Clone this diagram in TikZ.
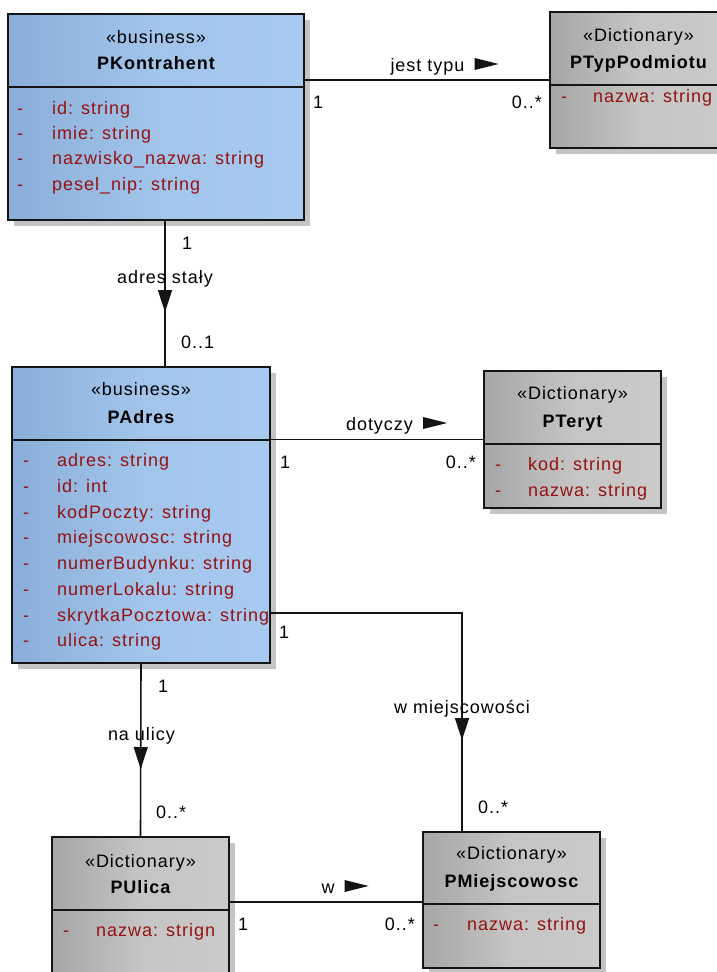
\documentclass[tikz,border=0pt]{standalone}
\usepackage{fontspec}
\setmainfont{Liberation Sans}[LetterSpace=5.5]
\usetikzlibrary{arrows.meta,decorations.markings,calc}
\definecolor{blueL}{RGB}{138,174,216}
\definecolor{blueR}{RGB}{168,202,240}
\definecolor{grayL}{RGB}{166,166,166}
\definecolor{grayR}{RGB}{202,202,202}
\definecolor{attrred}{RGB}{148,18,18}
\definecolor{shadowc}{RGB}{196,196,196}
\definecolor{linec}{RGB}{20,20,20}
\pgfdeclarelayer{back}
\pgfdeclarelayer{shadowlayer}
\pgfsetlayers{back,shadowlayer,main}
\begin{document}
\begin{tikzpicture}[x=1pt,y=-1pt,
  font=\fontsize{18}{21}\selectfont,
  classbox/.style={draw=linec, line width=2pt, anchor=north west, inner sep=0pt, outer sep=0pt},
  bluebox/.style={classbox, left color=blueL, right color=blueR, middle color=blueR!80!blueL},
  graybox/.style={classbox, left color=grayL, right color=grayR, middle color=grayR!85!grayL},
  divider/.style={draw=linec, line width=2pt},
  shadowbox/.style={fill=shadowc},
  stereo/.style={anchor=base, inner sep=0pt},
  ctitle/.style={anchor=base, inner sep=0pt, font=\fontsize{18}{21}\selectfont\bfseries},
  attr/.style={anchor=base west, inner sep=0pt, text=attrred},
  lbl/.style={anchor=base, inner sep=0pt},
  multl/.style={anchor=base west, inner sep=0pt},
  multr/.style={anchor=base east, inner sep=0pt},
  conn/.style={draw=linec, line width=1.6pt},
  midarrow/.style={postaction=decorate, decoration={markings,
     mark=at position #1 with {\arrow{Triangle[length=22pt,width=14pt]}}}}
]
\begin{pgfonlayer}{back}
  \fill[white] (0,0) rectangle (717,972);
\end{pgfonlayer}
\useasboundingbox (0,0) rectangle (717,972);

% ---------- class boxes ----------
\node[bluebox, minimum width=296pt, minimum height=206pt] (pk) at (8,14) {};
\node[graybox, minimum width=177pt, minimum height=136pt] (ptp) at (550,12) {};
\node[bluebox, minimum width=258pt, minimum height=296pt] (pa) at (12,367) {};
\node[graybox, minimum width=177pt, minimum height=137pt] (pt) at (484,371) {};
\node[graybox, minimum width=177pt, minimum height=160pt] (pu) at (52,837) {};
\node[graybox, minimum width=177pt, minimum height=136pt] (pm) at (423,832) {};

\begin{pgfonlayer}{shadowlayer}
  \foreach \n in {pk,ptp,pa,pt,pu,pm}{
    \fill[shadowbox] ($(\n.north west)+(6,6)$) rectangle ($(\n.south east)+(6,6)$);
  }
\end{pgfonlayer}

% dividers
\draw[divider] ($(pk.north west)+(0,73)$) -- ($(pk.north east)+(0,73)$);
\draw[divider] ($(ptp.north west)+(0,73)$) -- ($(ptp.north east)+(0,73)$);
\draw[divider] ($(pa.north west)+(0,73)$) -- ($(pa.north east)+(0,73)$);
\draw[divider] ($(pt.north west)+(0,73)$) -- ($(pt.north east)+(0,73)$);
\draw[divider] ($(pu.north west)+(0,73)$) -- ($(pu.north east)+(0,73)$);
\draw[divider] ($(pm.north west)+(0,72)$) -- ($(pm.north east)+(0,72)$);

% ---------- PKontrahent ----------
\node[stereo] (pk-s) at (156,43) {«business»};
\node[ctitle] (pk-t) at (156,69) {PKontrahent};
\node[attr] (pk-d1) at (17,114) {-};
\node[attr] (pk-a1) at (52,114) {id: string};
\node[attr] (pk-d2) at (17,139) {-};
\node[attr] (pk-a2) at (52,139) {imie: string};
\node[attr] (pk-d3) at (17,164) {-};
\node[attr] (pk-a3) at (52,164) {nazwisko\_nazwa: string};
\node[attr] (pk-d4) at (17,190) {-};
\node[attr] (pk-a4) at (52,190) {pesel\_nip: string};

% ---------- PTypPodmiotu ----------
\node[stereo] (ptp-s) at (638.5,41) {«Dictionary»};
\node[ctitle] (ptp-t) at (638.5,68) {PTypPodmiotu};
\node[attr] (ptp-d1) at (561,102) {-};
\node[attr] (ptp-a1) at (593,102) {nazwa: string};

% ---------- PAdres ----------
\node[stereo] (pa-s) at (141,395) {«business»};
\node[ctitle] (pa-t) at (141,423) {PAdres};
\node[attr] (pa-d1) at (23,466) {-};
\node[attr] (pa-a1) at (57,466) {adres: string};
\node[attr] (pa-d2) at (23,492) {-};
\node[attr] (pa-a2) at (57,492) {id: int};
\node[attr] (pa-d3) at (23,518) {-};
\node[attr] (pa-a3) at (57,518) {kodPoczty: string};
\node[attr] (pa-d4) at (23,543) {-};
\node[attr] (pa-a4) at (57,543) {miejscowosc: string};
\node[attr] (pa-d5) at (23,569) {-};
\node[attr] (pa-a5) at (57,569) {numerBudynku: string};
\node[attr] (pa-d6) at (23,595) {-};
\node[attr] (pa-a6) at (57,595) {numerLokalu: string};
\node[attr] (pa-d7) at (23,621) {-};
\node[attr] (pa-a7) at (57,621) {skrytkaPocztowa: string};
\node[attr] (pa-d8) at (23,646) {-};
\node[attr] (pa-a8) at (57,646) {ulica: string};

% ---------- PTeryt ----------
\node[stereo] (pt-s) at (572.5,399) {«Dictionary»};
\node[ctitle] (pt-t) at (572.5,427) {PTeryt};
\node[attr] (pt-d1) at (495,470) {-};
\node[attr] (pt-a1) at (528,470) {kod: string};
\node[attr] (pt-d2) at (495,496) {-};
\node[attr] (pt-a2) at (528,496) {nazwa: string};

% ---------- PUlica ----------
\node[stereo] (pu-s) at (140.5,867) {«Dictionary»};
\node[ctitle] (pu-t) at (140.5,893) {PUlica};
\node[attr] (pu-d1) at (63,936) {-};
\node[attr] (pu-a1) at (96,936) {nazwa: strign};

% ---------- PMiejscowosc ----------
\node[stereo] (pm-s) at (511.5,859) {«Dictionary»};
\node[ctitle] (pm-t) at (511.5,887) {PMiejscowosc};
\node[attr] (pm-d1) at (433,930) {-};
\node[attr] (pm-a1) at (467,930) {nazwa: string};

% ---------- connectors ----------
\coordinate (vx1) at (165,0);
\coordinate (c3) at (462,613);
\coordinate (c5) at (0,902);

\draw[conn] (pk.east |- ptp.west) -- (ptp.west);
\draw[conn, midarrow=92pt] (pk.south -| vx1) -- (pa.north -| vx1);
\draw[conn] (pa.east |- pt.west) -- (pt.west);
\draw[conn, midarrow=319pt] (pa.east |- c3) -- (c3) -- (pm.north -| c3);
\draw[conn, midarrow=106pt] (pa.south) -- (pu.north);
\draw[conn] (pu.east |- c5) -- (pm.west |- c5);

% ---------- labels ----------
\node[lbl] (l1) at (427.5,71) {jest typu};
\fill[linec] ($(l1.base east)+(10,-13)$) -- ++(24,6) -- ++(-24,6) -- cycle;
\node[multl] (m1a) at (313,108) {1};
\node[multr] (m1b) at (542,108) {0..*};

\node[lbl] (l2) at (165,283) {adres stały};
\node[multl] (m2a) at (182,249) {1};
\node[multl] (m2b) at (181,348) {0..1};

\node[lbl] (l3) at (379.5,430) {dotyczy};
\fill[linec] ($(l3.base east)+(10,-13)$) -- ++(24,6) -- ++(-24,6) -- cycle;
\node[multl] (m3a) at (280,468) {1};
\node[multr] (m3b) at (476,468) {0..*};

\node[lbl] (l4) at (462,713) {w miejscowości};
\node[multl] (m4a) at (279,638) {1};
\node[multl] (m4b) at (478,813) {0..*};

\node[lbl] (l5) at (141.5,740) {na ulicy};
\node[multl] (m5a) at (158,692) {1};
\node[multl] (m5b) at (156,818) {0..*};

\node[lbl] (l6) at (328,893) {w};
\fill[linec] ($(l6.base east)+(10,-13)$) -- ++(24,6) -- ++(-24,6) -- cycle;
\node[multl] (m6a) at (238,930) {1};
\node[multr] (m6b) at (415,930) {0..*};
\end{tikzpicture}
\end{document}
